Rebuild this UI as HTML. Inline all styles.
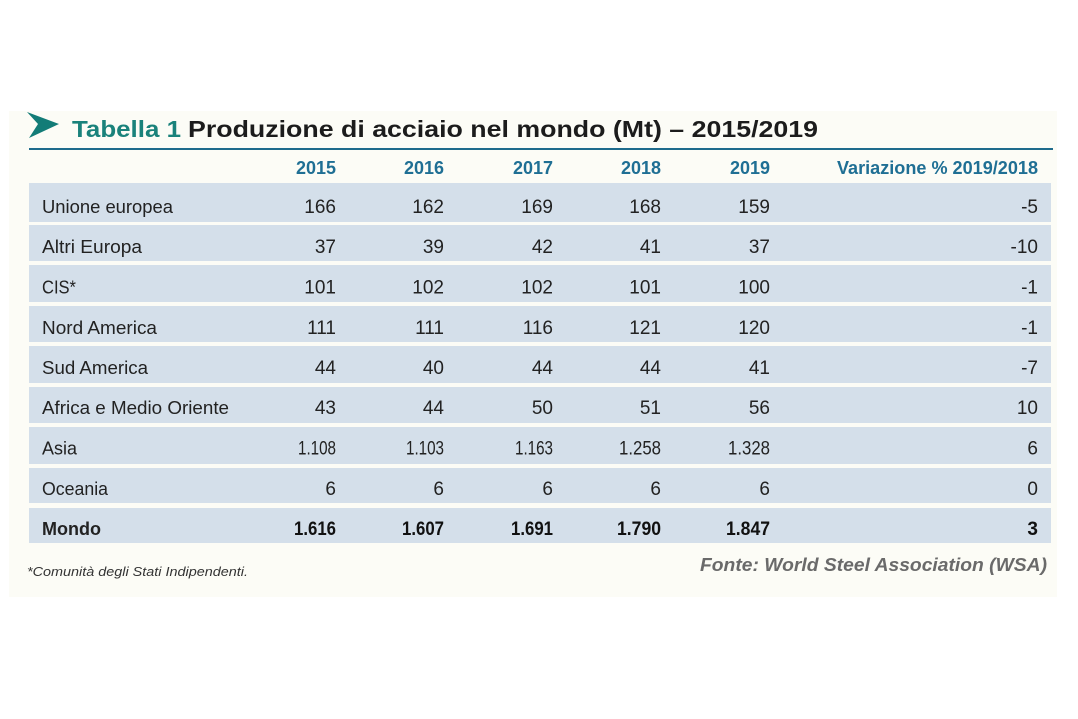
<!DOCTYPE html>
<html><head><meta charset="utf-8">
<style>
html,body{margin:0;padding:0;background:#fff;}
svg{display:block;}
text{font-family:"Liberation Sans",sans-serif;}
</style></head>
<body>
<svg width="1078" height="719" viewBox="0 0 1078 719" xmlns="http://www.w3.org/2000/svg">
<rect x="0" y="0" width="1078" height="719" fill="#ffffff"/>
<rect x="9" y="111" width="1048" height="486" fill="#fcfcf6"/>
<!-- arrow -->
<polygon points="27,112 59,124 29,138 38,124" fill="#137c77"/>
<!-- title -->
<text x="72" y="137" font-size="23.5" font-weight="bold" fill="#1a827b" textLength="109" lengthAdjust="spacingAndGlyphs">Tabella 1</text>
<text x="188" y="137" font-size="23.5" font-weight="bold" fill="#1c1c1c" textLength="630" lengthAdjust="spacingAndGlyphs">Produzione di acciaio nel mondo (Mt) – 2015/2019</text>
<rect x="29" y="148" width="1024" height="2" fill="#1e6b8c"/>
<!-- header -->
<g font-size="18" font-weight="bold" fill="#1f6f94" text-anchor="end">
<text x="336" y="174" textLength="40" lengthAdjust="spacingAndGlyphs">2015</text>
<text x="444" y="174" textLength="40" lengthAdjust="spacingAndGlyphs">2016</text>
<text x="553" y="174" textLength="40" lengthAdjust="spacingAndGlyphs">2017</text>
<text x="661" y="174" textLength="40" lengthAdjust="spacingAndGlyphs">2018</text>
<text x="770" y="174" textLength="40" lengthAdjust="spacingAndGlyphs">2019</text>
<text x="1038" y="174" textLength="201" lengthAdjust="spacingAndGlyphs">Variazione % 2019/2018</text>
</g>
<!-- bands -->
<g fill="#d4dfea">
<rect x="29" y="183" width="1022" height="39"/>
<rect x="29" y="225" width="1022" height="36"/>
<rect x="29" y="265" width="1022" height="37"/>
<rect x="29" y="306" width="1022" height="36"/>
<rect x="29" y="346" width="1022" height="37"/>
<rect x="29" y="387" width="1022" height="36"/>
<rect x="29" y="427" width="1022" height="37"/>
<rect x="29" y="468" width="1022" height="35"/>
<rect x="29" y="508" width="1022" height="35"/>
</g>
<!-- labels -->
<g font-size="18.5" fill="#222">
<text x="42" y="213" textLength="131" lengthAdjust="spacingAndGlyphs">Unione europea</text>
<text x="42" y="253" textLength="100" lengthAdjust="spacingAndGlyphs">Altri Europa</text>
<text x="42" y="293.5" textLength="34" lengthAdjust="spacingAndGlyphs">CIS*</text>
<text x="42" y="334" textLength="115" lengthAdjust="spacingAndGlyphs">Nord America</text>
<text x="42" y="374" textLength="106" lengthAdjust="spacingAndGlyphs">Sud America</text>
<text x="42" y="414" textLength="187" lengthAdjust="spacingAndGlyphs">Africa e Medio Oriente</text>
<text x="42" y="454.5" textLength="35" lengthAdjust="spacingAndGlyphs">Asia</text>
<text x="42" y="495" textLength="66" lengthAdjust="spacingAndGlyphs">Oceania</text>
<text x="42" y="535" font-weight="bold" textLength="59" lengthAdjust="spacingAndGlyphs">Mondo</text>
</g>
<!-- values -->
<g font-size="19" fill="#222" text-anchor="end">
<text x="336" y="213">166</text><text x="444" y="213">162</text><text x="553" y="213">169</text><text x="661" y="213">168</text><text x="770" y="213">159</text><text x="1038" y="213">-5</text>
<text x="336" y="253">37</text><text x="444" y="253">39</text><text x="553" y="253">42</text><text x="661" y="253">41</text><text x="770" y="253">37</text><text x="1038" y="253">-10</text>
<text x="336" y="293.5">101</text><text x="444" y="293.5">102</text><text x="553" y="293.5">102</text><text x="661" y="293.5">101</text><text x="770" y="293.5">100</text><text x="1038" y="293.5">-1</text>
<text x="336" y="334">111</text><text x="444" y="334">111</text><text x="553" y="334">116</text><text x="661" y="334">121</text><text x="770" y="334">120</text><text x="1038" y="334">-1</text>
<text x="336" y="374">44</text><text x="444" y="374">40</text><text x="553" y="374">44</text><text x="661" y="374">44</text><text x="770" y="374">41</text><text x="1038" y="374">-7</text>
<text x="336" y="414">43</text><text x="444" y="414">44</text><text x="553" y="414">50</text><text x="661" y="414">51</text><text x="770" y="414">56</text><text x="1038" y="414">10</text>
<text x="336" y="454.5" textLength="38" lengthAdjust="spacingAndGlyphs">1.108</text><text x="444" y="454.5" textLength="38" lengthAdjust="spacingAndGlyphs">1.103</text><text x="553" y="454.5" textLength="38" lengthAdjust="spacingAndGlyphs">1.163</text><text x="661" y="454.5" textLength="42" lengthAdjust="spacingAndGlyphs">1.258</text><text x="770" y="454.5" textLength="42" lengthAdjust="spacingAndGlyphs">1.328</text><text x="1038" y="454.5">6</text>
<text x="336" y="495">6</text><text x="444" y="495">6</text><text x="553" y="495">6</text><text x="661" y="495">6</text><text x="770" y="495">6</text><text x="1038" y="495">0</text>
</g>
<g font-size="19" font-weight="bold" fill="#111" text-anchor="end">
<text x="336" y="535" textLength="42" lengthAdjust="spacingAndGlyphs">1.616</text><text x="444" y="535" textLength="42" lengthAdjust="spacingAndGlyphs">1.607</text><text x="553" y="535" textLength="42" lengthAdjust="spacingAndGlyphs">1.691</text><text x="661" y="535" textLength="44" lengthAdjust="spacingAndGlyphs">1.790</text><text x="770" y="535" textLength="44" lengthAdjust="spacingAndGlyphs">1.847</text><text x="1038" y="535">3</text>
</g>
<!-- footer -->
<text x="27" y="576" font-size="13" font-style="italic" fill="#333" textLength="221" lengthAdjust="spacingAndGlyphs">*Comunità degli Stati Indipendenti.</text>
<text x="1047" y="571" font-size="18" font-style="italic" font-weight="bold" fill="#6a6a6a" text-anchor="end" textLength="347" lengthAdjust="spacingAndGlyphs">Fonte: World Steel Association (WSA)</text>
</svg>
</body></html>
